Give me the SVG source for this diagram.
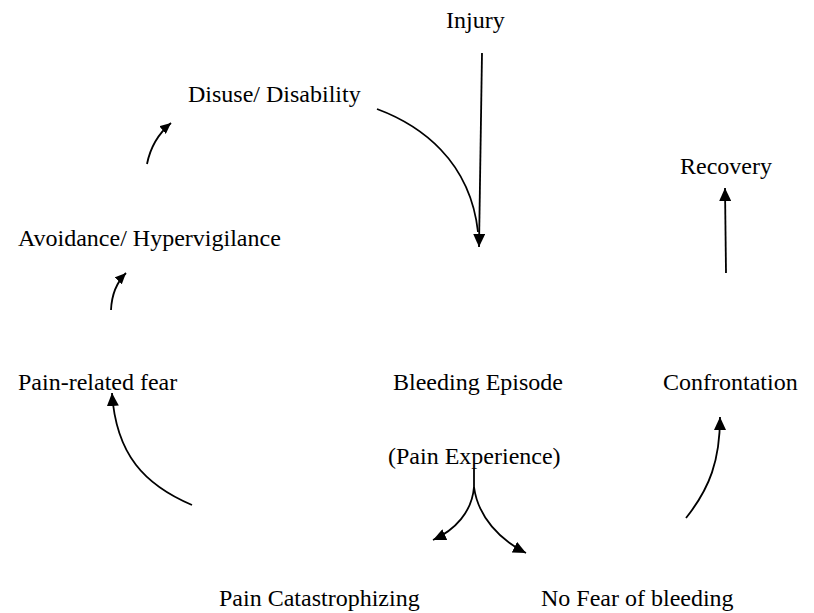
<svg xmlns="http://www.w3.org/2000/svg" width="814" height="613" viewBox="0 0 814 613">
<style>
text{font-family:"Liberation Serif","Times New Roman",serif;font-size:24px;fill:#000}
.c{fill:none;stroke:#000;stroke-width:1.8}
</style>
<defs>
<marker id="ah" markerUnits="userSpaceOnUse" markerWidth="14" markerHeight="12" refX="13" refY="6" orient="auto">
<path d="M0,0 L13,6 L0,12 z" fill="#000"/>
</marker>
<marker id="as" markerUnits="userSpaceOnUse" markerWidth="12" markerHeight="10" refX="11" refY="5" orient="auto">
<path d="M0,0 L11,5 L0,10 z" fill="#000"/>
</marker>
</defs>
<rect width="814" height="613" fill="#fff"/>
<g id="injury"><text x="446" y="28">Injury</text></g>
<g id="disuse"><text x="188" y="102">Disuse/ Disability</text></g>
<g id="recovery"><text x="680" y="174">Recovery</text></g>
<g id="avoidance"><text x="18" y="246">Avoidance/ Hypervigilance</text></g>
<g id="fear"><text x="18" y="390">Pain-related fear</text></g>
<g id="bleeding"><text x="393" y="390">Bleeding Episode</text><text x="388" y="464">(Pain Experience)</text></g>
<g id="confrontation"><text x="663" y="390">Confrontation</text></g>
<g id="catastrophizing"><text x="219" y="606">Pain Catastrophizing</text></g>
<g id="nofear"><text x="541" y="606">No Fear of bleeding</text></g>
<g id="connectors">
<path class="c" d="M482,53 L479,247" marker-end="url(#ah)"/>
<path class="c" d="M377,109 C420,125 470,160 478,232"/>
<path class="c" d="M147,164 Q152,139 171,123" marker-end="url(#as)"/>
<path class="c" d="M111,310 Q112,287 126,273" marker-end="url(#as)"/>
<path class="c" d="M192,505 C145,485 116,455 112,393" marker-end="url(#ah)"/>
<path class="c" d="M474,469 L474,487"/>
<path class="c" d="M474,487 C472,512 455,530 433,540" marker-end="url(#ah)"/>
<path class="c" d="M474,487 C478,517 500,540 526,553" marker-end="url(#ah)"/>
<path class="c" d="M686,518 C710,488 720,460 720,417" marker-end="url(#ah)"/>
<path class="c" d="M726,273 L725,188" marker-end="url(#ah)"/>
</g>
</svg>
